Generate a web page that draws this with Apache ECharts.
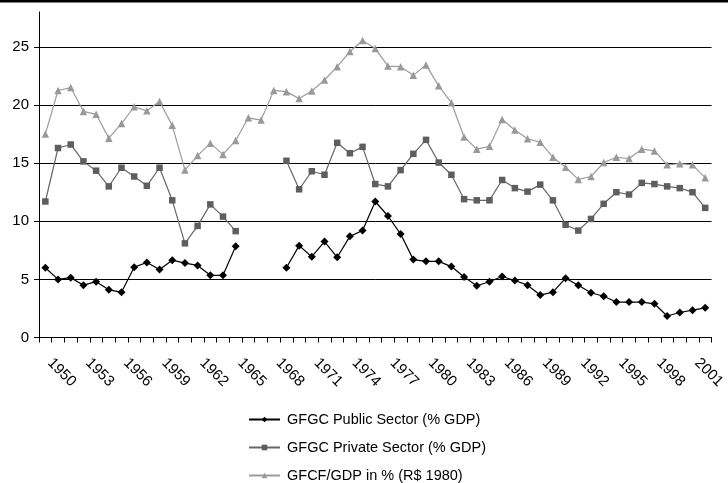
<!DOCTYPE html>
<html>
<head>
<meta charset="utf-8">
<script src="https://cdn.jsdelivr.net/npm/echarts@6/dist/echarts.min.js"></script>
<style>html,body{margin:0;padding:0;background:#fff}#c{width:728px;height:483px}</style>
</head>
<body>
<div id="c"></div>
<script>
var years = ['1949','1950','1951','1952','1953','1954','1955','1956','1957','1958','1959','1960','1961','1962','1963','1964','1965','1966','1967','1968','1969','1970','1971','1972','1973','1974','1975','1976','1977','1978','1979','1980','1981','1982','1983','1984','1985','1986','1987','1988','1989','1990','1991','1992','1993','1994','1995','1996','1997','1998','1999','2000','2001'];
var yTicks = [0,5,10,15,20,25];
var publicSector = [6.0,5.0,5.15,4.5,4.8,4.1,3.9,6.05,6.45,5.85,6.65,6.4,6.2,5.35,5.35,7.85,null,null,null,6.0,7.9,6.95,8.25,6.9,8.7,9.2,11.7,10.45,8.9,6.7,6.55,6.55,6.1,5.2,4.45,4.8,5.25,4.9,4.5,3.65,3.9,5.1,4.5,3.85,3.55,3.05,3.05,3.05,2.9,1.85,2.15,2.35,2.55];
var privateSector = [11.7,16.3,16.6,15.15,14.35,13.0,14.6,13.85,13.05,14.6,11.8,8.1,9.6,11.45,10.4,9.15,null,null,null,15.2,12.75,14.3,14.0,16.75,15.85,16.4,13.2,13.0,14.4,15.8,17.0,15.05,14.0,11.9,11.8,11.8,13.55,12.85,12.55,13.15,11.8,9.7,9.2,10.2,11.5,12.5,12.3,13.3,13.2,13.0,12.85,12.5,11.15];
var gfcf = [17.5,21.25,21.5,19.45,19.2,17.15,18.4,19.85,19.5,20.3,18.25,14.4,15.65,16.7,15.75,16.95,18.9,18.7,21.25,21.15,20.55,21.2,22.15,23.3,24.6,25.55,24.85,23.35,23.3,22.55,23.45,21.65,20.2,17.25,16.2,16.45,18.75,17.85,17.1,16.8,15.5,14.65,13.6,13.85,15.05,15.5,15.4,16.2,16.05,14.85,14.95,14.85,13.75];
var names = ['GFGC Public Sector (% GDP)','GFGC Private Sector (% GDP)','GFCF/GDP in % (R$ 1980)'];

var chart = echarts.init(document.getElementById('c'), null, {renderer:'canvas'});
var font = 'Liberation Sans, Arial, Helvetica, sans-serif';
chart.setOption({
  animation: false,
  backgroundColor: '#fff',
  graphic: [{type:'rect', left:0, top:0, shape:{width:728, height:2.5}, style:{fill:'#000'}}],
  grid: {left: 39, top: 12, width: 680, height: 325.5, containLabel: false},
  legend: {
    orient: 'vertical', left: 248, top: 412, height: 100, padding: 0,
    itemWidth: 31, itemHeight: 7, itemGap: 13,
    textStyle: {fontFamily: font, fontSize: 14.5, color: '#000', padding: [0,0,0,2]},
    data: names
  },
  xAxis: {
    type: 'category', data: years, boundaryGap: true,
    axisLine: {lineStyle: {color: '#000', width: 1}},
    axisTick: {show: true, interval: 0, length: 5, lineStyle: {color: '#000'}},
    axisLabel: {
      interval: function (i) { return (i - 1) % 3 === 0; },
      rotate: -45, align: 'left', verticalAlign: 'top', margin: 15, padding: [4,0,0,0],
      fontFamily: font, fontSize: 15, color: '#000'
    },
    splitLine: {show: false}
  },
  yAxis: {
    type: 'value', min: 0, max: 28, interval: 5,
    axisLine: {show: true, lineStyle: {color: '#000', width: 1}},
    axisTick: {show: true, length: 5, customValues: yTicks, lineStyle: {color: '#000'}},
    axisLabel: {customValues: yTicks, margin: 10, fontFamily: font, fontSize: 15, color: '#000'},
    splitLine: {show: true, lineStyle: {color: '#000', width: 1}}
  },
  series: [
    {name: names[0], type: 'line', data: publicSector, connectNulls: false,
     symbol: 'diamond', symbolSize: 8, lineStyle: {color: '#000', width: 1.2},
     itemStyle: {color: '#000'}},
    {name: names[1], type: 'line', data: privateSector, connectNulls: false,
     symbol: 'rect', symbolSize: 6.5, lineStyle: {color: '#666', width: 1.2},
     itemStyle: {color: '#5e5e5e'}},
    {name: names[2], type: 'line', data: gfcf, connectNulls: false,
     symbol: 'triangle', symbolSize: 7.5, lineStyle: {color: '#9c9c9c', width: 1.2},
     itemStyle: {color: '#999'}}
  ]
});
</script>
</body>
</html>
